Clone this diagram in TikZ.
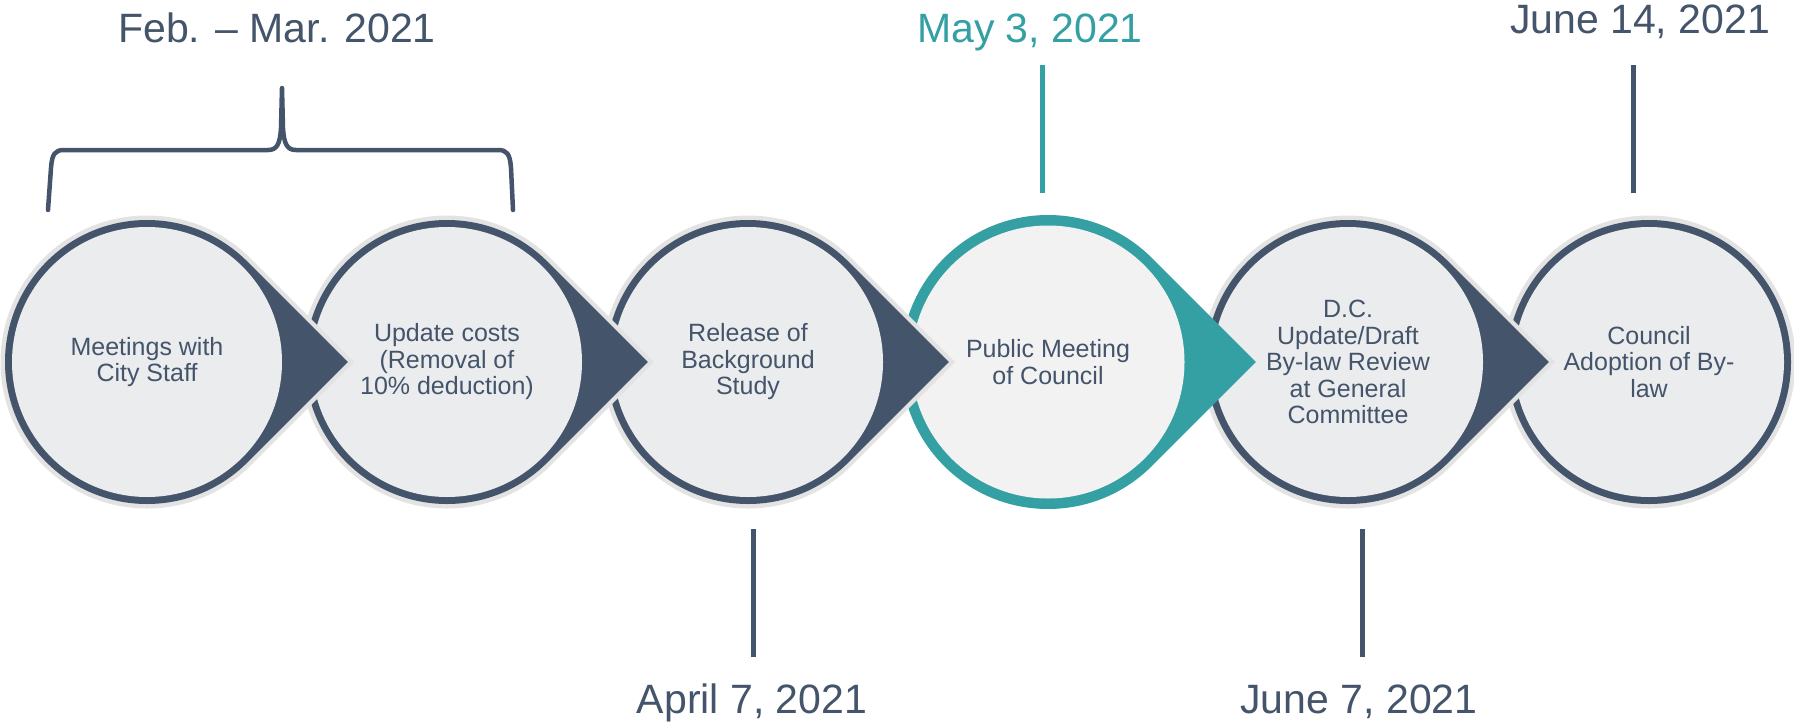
\documentclass[tikz,border=0pt]{standalone}
\usepackage{fontspec}
\setmainfont{Liberation Sans}
\usetikzlibrary{calc}
\definecolor{slate}{HTML}{44546A}
\definecolor{tealc}{HTML}{35A0A3}
\definecolor{halo}{HTML}{E3E3E3}
\definecolor{innerg}{HTML}{EBECEE}
\definecolor{innert}{HTML}{F2F2F2}
\newcommand\tdrop[4]{\path[#4] (#1,#2) ++(45:#3pt) arc[start angle=45,end angle=315,radius=#3pt] -- ($(#1,#2)+(#3*1.41421pt,0pt)$) -- cycle;}
\begin{document}
\begin{tikzpicture}[x=1pt,y=-1pt,
  circtext/.style={text=slate,align=center,font=\fontsize{25}{26.5}\selectfont},
  datetext/.style={font=\fontsize{41}{45}\selectfont,text=slate,anchor=base},
  tick/.style={line width=5pt,draw=slate},
  bracestyle/.style={line width=4.5pt,draw=slate,line cap=round,line join=round}]
\useasboundingbox (0,0) rectangle (1794,726);
\fill[white] (0,0) rectangle (1794,726);
% shape 6 (plain circle)
\fill[halo] (1649,362) circle[radius=146.5pt];
\fill[slate] (1649,362) circle[radius=142pt];
\fill[innerg] (1649,362) circle[radius=135pt];
% shape 5
\tdrop{1348}{362}{146.5}{fill=halo}
\tdrop{1348}{362}{142}{fill=slate}
\fill[innerg] (1348,362) circle[radius=135pt];
% shape 4 (teal)
\tdrop{1048}{362}{147}{fill=tealc}
\fill[innert] (1048,362) circle[radius=136.5pt];
% shape 3
\tdrop{748}{362}{146.5}{fill=halo}
\tdrop{748}{362}{142}{fill=slate}
\fill[innerg] (748,362) circle[radius=135pt];
% shape 2
\tdrop{447}{362}{146.5}{fill=halo}
\tdrop{447}{362}{142}{fill=slate}
\fill[innerg] (447,362) circle[radius=135pt];
% shape 1
\tdrop{147}{362}{146.5}{fill=halo}
\tdrop{147}{362}{142}{fill=slate}
\fill[innerg] (147,362) circle[radius=135pt];
% texts in circles
\node[circtext] (s1) at (147,362) {Meetings with\\City Staff};
\node[circtext] (s2) at (447,362) {Update costs\\(Removal of\\10\% deduction)};
\node[circtext] (s3) at (748,362) {Release of\\Background\\Study};
\node[circtext] (s4) at (1048,362) {Public Meeting\\of Council};
\node[circtext] (s5) at (1348,362) {D.C.\\Update/Draft\\By-law Review\\at General\\Committee};
\node[circtext] (s6) at (1649,362) {Council\\Adoption of By-\\law};
% dates
\node[datetext] (d1) at (277,42) {Feb. – Mar. 2021};
\node[datetext,text=tealc] (d4) at (1030,42) {May 3, 2021};
\node[datetext] (d6) at (1640,33) {June 14, 2021};
\node[datetext] (d3) at (752,713) {April 7, 2021};
\node[datetext] (d5) at (1359,713) {June 7, 2021};
% ticks
\coordinate (t4a) at (1042,65); \coordinate (t4b) at (1042,193);
\coordinate (t6a) at (1633,65); \coordinate (t6b) at (1633,193);
\coordinate (t3a) at (753,529); \coordinate (t3b) at (753,657);
\coordinate (t5a) at (1362,529); \coordinate (t5b) at (1362,657);
\draw[tick,draw=tealc] (t4a) -- (t4b);
\draw[tick] (t6a) -- (t6b);
\draw[tick] (t3a) -- (t3b);
\draw[tick] (t5a) -- (t5b);
% brace
\coordinate (bl) at (48,210);
\coordinate (bt) at (282,88);
\coordinate (br) at (513,210);
\draw[bracestyle] (bl) -- (51,168) .. controls (52,154) and (55,150) .. (64,150)
  -- (268,150) .. controls (277,150) and (280,144) .. (281,128) -- (bt)
  -- (283,128) .. controls (284,144) and (287,150) .. (296,150)
  -- (498,150) .. controls (507,150) and (510,154) .. (511,168) -- (br);
\end{tikzpicture}
\end{document}
